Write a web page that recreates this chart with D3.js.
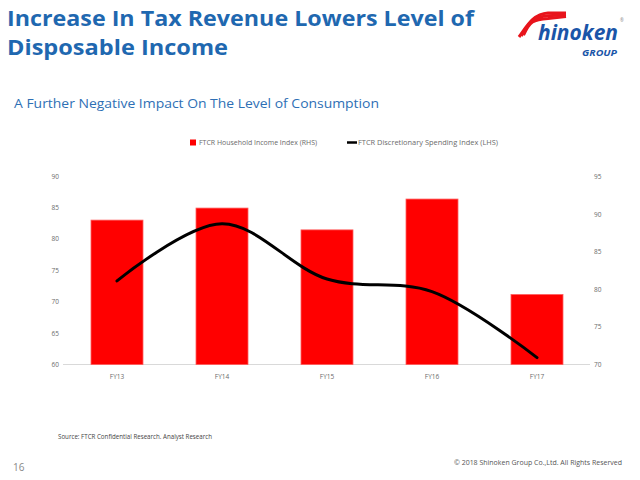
<!DOCTYPE html>
<html><head><meta charset="utf-8">
<script src="https://cdn.jsdelivr.net/npm/d3@7"></script>
<style>body{margin:0;background:#fff}svg{display:block}</style>
</head><body>
<script>
const categories = ["FY13","FY14","FY15","FY16","FY17"];
const incomeIndex = [89.2, 90.8, 87.9, 92.0, 79.3];      // bars, RHS
const spendingIndex = [73.3, 82.4, 73.6, 71.6, 61.1];    // line, LHS
const leftTicks = [60,65,70,75,80,85,90];
const rightTicks = [70,75,80,85,90,95];

const W=640,H=480;
const svg=d3.select("body").append("svg").attr("width",W).attr("height",H);
const font="'Open Sans', 'Liberation Sans', sans-serif";

// Title
const title=svg.append("text").attr("font-family",font).attr("font-weight","bold")
  .attr("font-size",21).attr("fill","#1f68b0");
title.append("tspan").attr("x",7).attr("y",26).text("Increase In Tax Revenue Lowers Level of").attr("textLength",467).attr("lengthAdjust","spacingAndGlyphs");
title.append("tspan").attr("x",7).attr("y",55).text("Disposable Income").attr("textLength",221).attr("lengthAdjust","spacingAndGlyphs");

svg.append("text").attr("x",14).attr("y",108).attr("font-family",font).attr("font-size",13.5)
  .attr("fill","#2e6fb5").attr("textLength",365).attr("lengthAdjust","spacingAndGlyphs")
  .text("A Further Negative Impact On The Level of Consumption");

// Logo
const logo=svg.append("g");
[0,4.5,9].forEach(o=>{
  logo.append("path")
    .attr("d",`M${519+o*0.5},${37-o*0.2} C${527+o*0.3},${26-o*0.5} ${533},${14+o*0.6} ${548},${13+o*0.6} L${566},${13+o*0.4}`)
    .attr("fill","none").attr("stroke","#e8141c").attr("stroke-width",3);
});
logo.append("text").attr("x",538).attr("y",40).attr("font-family",font).attr("font-weight","bold")
  .attr("font-style","italic").attr("font-size",21).attr("fill","#1a55a8")
  .attr("textLength",80).attr("lengthAdjust","spacingAndGlyphs").text("hinoken");
logo.append("text").attr("x",582).attr("y",56).attr("font-family",font).attr("font-weight","bold")
  .attr("font-style","italic").attr("font-size",9).attr("fill","#1a55a8")
  .attr("textLength",35).attr("lengthAdjust","spacingAndGlyphs").text("GROUP");
logo.append("text").attr("x",620).attr("y",22).attr("font-family",font).attr("font-size",4.5).attr("fill","#888").text("®");

// Chart
const x=d3.scaleBand().domain(categories).range([64.5,589.5]).paddingInner(0.505).paddingOuter(0.2525);
const yL=d3.scaleLinear().domain([60,90]).range([364.5,176]);
const yR=d3.scaleLinear().domain([70,95]).range([364.5,176.5]);

svg.append("line").attr("x1",63).attr("x2",590).attr("y1",364.5).attr("y2",364.5)
  .attr("stroke","#d9d9d9").attr("stroke-width",1);

svg.selectAll("rect.bar").data(categories).join("rect").attr("class","bar")
  .attr("x",d=>x(d)).attr("width",x.bandwidth())
  .attr("y",(d,i)=>yR(incomeIndex[i])).attr("height",(d,i)=>yR(70)-yR(incomeIndex[i]))
  .attr("fill","#ff0000").attr("stroke","#ff5a5a").attr("stroke-width",0.8);

const line=d3.line().x((d,i)=>x(categories[i])+x.bandwidth()/2).y(d=>yL(d)).curve(d3.curveCatmullRom.alpha(0.5));
svg.append("path").datum(spendingIndex).attr("d",line).attr("fill","none")
  .attr("stroke","#000").attr("stroke-width",3).attr("stroke-linecap","round");

const axL=svg.append("g").attr("transform","translate(59,0)")
  .call(d3.axisLeft(yL).tickValues(leftTicks).tickSize(0).tickPadding(0));
const axR=svg.append("g").attr("transform","translate(594,0)")
  .call(d3.axisRight(yR).tickValues(rightTicks).tickSize(0).tickPadding(0));
const axB=svg.append("g").attr("transform","translate(0,364.5)")
  .call(d3.axisBottom(x).tickSize(0).tickPadding(10));
[axL,axR,axB].forEach(a=>{a.select(".domain").remove();
  a.selectAll("text").attr("font-family",font).attr("font-size",6.5).attr("fill","#6b6b6b");});

// Legend
svg.append("rect").attr("x",190).attr("y",139.5).attr("width",6).attr("height",6).attr("fill","#ff0000");
svg.append("text").attr("x",199).attr("y",145).attr("font-family",font).attr("font-size",6.3).attr("fill","#6b6b6b")
  .attr("textLength",118).attr("lengthAdjust","spacingAndGlyphs").text("FTCR Household Income Index (RHS)");
svg.append("line").attr("x1",347).attr("x2",357).attr("y1",142.5).attr("y2",142.5).attr("stroke","#000").attr("stroke-width",2.5);
svg.append("text").attr("x",358).attr("y",145).attr("font-family",font).attr("font-size",6.3).attr("fill","#6b6b6b")
  .attr("textLength",140).attr("lengthAdjust","spacingAndGlyphs").text("FTCR Discretionary Spending Index (LHS)");

// Source & footer
svg.append("text").attr("x",58).attr("y",439).attr("font-family",font).attr("font-size",6.2).attr("fill","#444")
  .attr("textLength",154).attr("lengthAdjust","spacingAndGlyphs").text("Source: FTCR Confidential Research. Analyst Research");
svg.append("text").attr("x",622).attr("y",465).attr("text-anchor","end").attr("font-family",font).attr("font-size",7)
  .attr("fill","#555").attr("textLength",168).attr("lengthAdjust","spacingAndGlyphs").text("© 2018 Shinoken Group Co.,Ltd. All Rights Reserved");
svg.append("text").attr("x",13).attr("y",471).attr("font-family",font).attr("font-size",10).attr("fill","#888").text("16");
</script>
</body></html>
